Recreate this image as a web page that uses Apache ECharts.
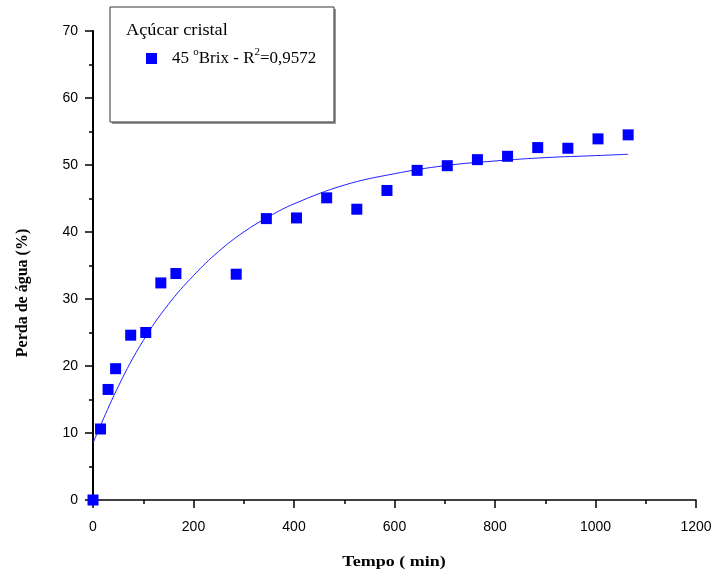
<!DOCTYPE html>
<html>
<head>
<meta charset="utf-8">
<script src="https://cdn.jsdelivr.net/npm/echarts@6/dist/echarts.min.js"></script>
<style>
html,body{margin:0;padding:0;background:#fff;}
#chart{width:717px;height:573px;}
</style>
</head>
<body>
<div id="chart"></div>
<script>
// Measured data: time (min) and water loss (%)
var tempo = [0, 15, 30, 45, 75, 105, 135, 165, 285, 345, 405, 465, 525, 585, 645, 705, 765, 825, 885, 945, 1005, 1065];
var perda = [0, 10.6, 16.5, 19.6, 24.6, 25.0, 32.4, 33.8, 33.7, 42.0, 42.1, 45.1, 43.4, 46.2, 49.2, 49.9, 50.8, 51.3, 52.6, 52.5, 53.9, 54.5];

// Fitted curve at sample times
var curveT = [0, 50, 100, 150, 200, 250, 300, 350, 400, 500, 600, 700, 800, 900, 1000, 1065];
var curveY = [8.5, 16.9, 23.8, 29.2, 33.5, 37.1, 40.0, 42.3, 44.2, 47.0, 48.7, 49.9, 50.6, 51.1, 51.4, 51.6];

var xTicks = [0, 200, 400, 600, 800, 1000, 1200];
var yTicks = [0, 10, 20, 30, 40, 50, 60, 70];

var legendTitle = 'Açúcar cristal';
var seriesName = '45 °Brix - R²=0,9572';
var xName = 'Tempo ( min)';
var yName = 'Perda de água (%)';

var pts = tempo.map(function (t, i) { return [t, perda[i]]; });
var curve = curveT.map(function (t, i) { return [t, curveY[i]]; });

var chart = echarts.init(document.getElementById('chart'), null, {renderer: 'canvas'});
var serif = 'Liberation Serif, Times New Roman, serif';
var axisFont = {fontFamily: 'Liberation Sans, Arial, sans-serif', fontSize: 14, color: '#000',
  formatter: function (v) { return String(v); }};

chart.setOption({
  backgroundColor: '#fff',
  animation: false,
  grid: {left: 93, right: 21, top: 31, bottom: 73, containLabel: false},
  xAxis: {
    type: 'value', min: xTicks[0], max: xTicks[xTicks.length - 1], interval: 200,
    axisLine: {show: true, onZero: false, lineStyle: {color: '#000', width: 1.5}},
    axisTick: {show: true, inside: false, length: 8, lineStyle: {color: '#000', width: 1.5}},
    minorTick: {show: true, splitNumber: 2, length: 4, lineStyle: {color: '#000', width: 1.5}},
    axisLabel: Object.assign({margin: 20}, axisFont),
    splitLine: {show: false}
  },
  yAxis: {
    type: 'value', min: yTicks[0], max: yTicks[yTicks.length - 1], interval: 10,
    axisLine: {show: true, onZero: false, lineStyle: {color: '#000', width: 2}},
    axisTick: {show: true, inside: false, length: 8, lineStyle: {color: '#000', width: 1.5}},
    minorTick: {show: true, splitNumber: 2, length: 4, lineStyle: {color: '#000', width: 1.5}},
    axisLabel: Object.assign({margin: 15}, axisFont),
    splitLine: {show: false}
  },
  legend: {
    show: true,
    left: 141, top: 42,
    itemWidth: 11, itemHeight: 11, itemGap: 10,
    data: [{name: seriesName, icon: 'rect'}],
    formatter: function () { return '45 {sup|o}Brix - R{sup|2}=0,9572'; },
    textStyle: {
      fontFamily: serif, fontSize: 17, color: '#000', padding: [0, 0, 0, 10],
      rich: {sup: {fontFamily: serif, fontSize: 11, verticalAlign: 'top', padding: [0, 0, 12, 0], color: '#000'}}
    }
  },
  graphic: [
    {type: 'rect', shape: {x: 112, y: 9, width: 224, height: 115}, style: {fill: '#999'}, z: 0},
    {type: 'rect', shape: {x: 110, y: 7, width: 224, height: 115}, style: {fill: '#fff', stroke: '#333', lineWidth: 1}, z: 1},
    {type: 'text', x: 126, y: 31, scaleX: 1.14, z: 2, style: {text: legendTitle, fontFamily: serif, fontSize: 16, fill: '#000', textVerticalAlign: 'middle'}},
    {type: 'text', x: 394, y: 562, scaleX: 1.2, z: 2, style: {text: xName, fontFamily: serif, fontWeight: 'bold', fontSize: 15, fill: '#000', textAlign: 'center', textVerticalAlign: 'middle'}},
    {type: 'text', x: 23, y: 293, rotation: Math.PI / 2, z: 2, style: {text: yName, fontFamily: serif, fontWeight: 'bold', fontSize: 16, fill: '#000', textAlign: 'center', textVerticalAlign: 'middle'}}
  ],
  series: [
    {
      name: 'fit', type: 'line', data: curve, smooth: 0.4, showSymbol: false, symbol: 'none',
      lineStyle: {color: '#2020ff', width: 1}, z: 2
    },
    {
      name: seriesName, type: 'scatter', data: pts, symbol: 'rect', symbolSize: 11,
      itemStyle: {color: '#0000ff', opacity: 1}, z: 3
    }
  ]
});
</script>
</body>
</html>
